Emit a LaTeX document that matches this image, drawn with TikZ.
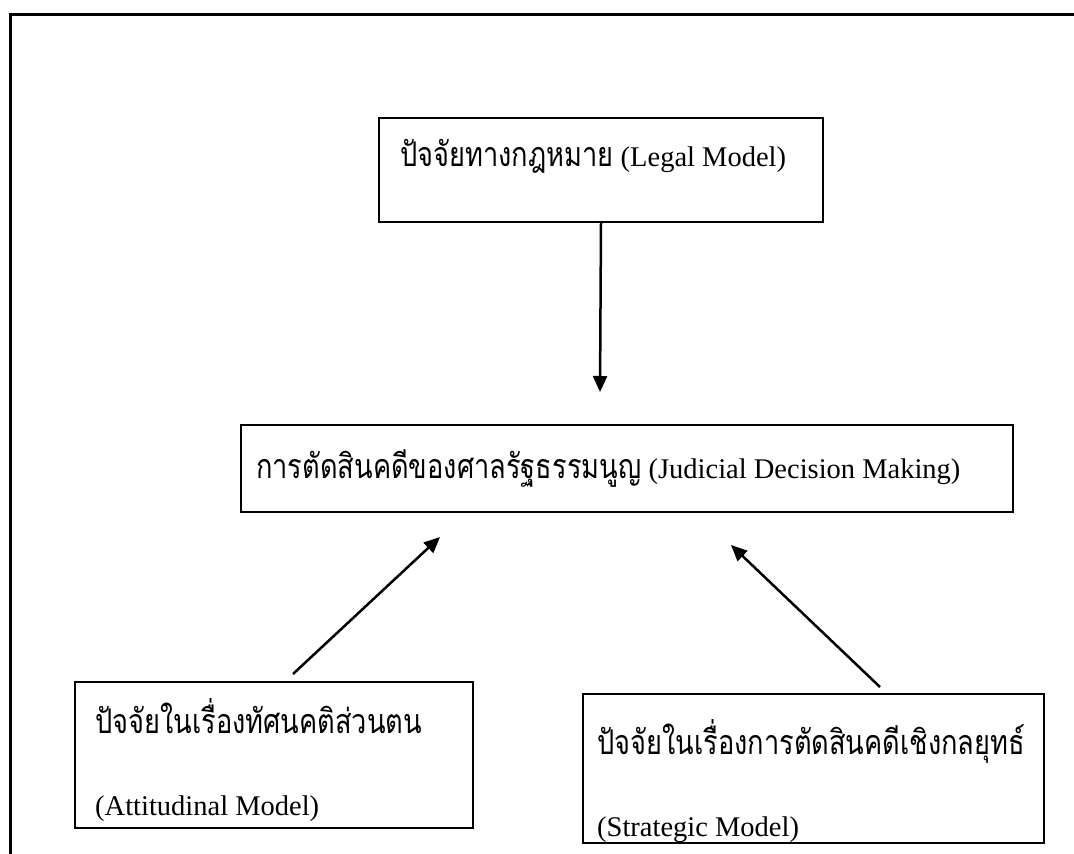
\documentclass[tikz,border=0pt]{standalone}
\usepackage{fontspec}
\setmainfont{Liberation Serif}
\newfontfamily\thai[Script=Thai,FakeStretch=0.8]{Loma}
\usetikzlibrary{arrows.meta}
\begin{document}
\begin{tikzpicture}[x=1pt,y=-1pt,
  box/.style={draw, line width=2pt, inner sep=0pt, anchor=north west},
  lbl/.style={anchor=base west, inner sep=0pt, font=\fontsize{28.5}{34}\selectfont},
  th/.style={font=\fontsize{34}{40}\selectfont\thai},
  arr/.style={line width=2.5pt, -{Triangle[length=16pt,width=14pt]}}]
\useasboundingbox (0,0) rectangle (1074,854);
\draw[line width=3pt] (10,880) -- (10,14) -- (1100,14);
% boxes
\node[box, minimum width=444pt, minimum height=104pt] (legal) at (378,117) {};
\node[box, minimum width=772pt, minimum height=87pt] (jdm) at (240,424) {};
\node[box, minimum width=398pt, minimum height=146pt] (att) at (74,681) {};
\node[box, minimum width=461pt, minimum height=149pt] (str) at (582,693) {};
% texts
\node[lbl] (legalt) at (400,166) {{\fontsize{34}{40}\selectfont\thai ปัจจัยทางกฎหมาย} (Legal Model)};
\node[lbl] (jdmt) at (256,478) {{\fontsize{34}{40}\selectfont\thai การตัดสินคดีของศาลรัฐธรรมนูญ} (Judicial Decision Making)};
\node[lbl, th] (att1) at (95,733) {ปัจจัยในเรื่องทัศนคติส่วนตน};
\node[lbl] (att2) at (95,815) {(Attitudinal Model)};
\node[lbl, th] (str1) at (597,754) {ปัจจัยในเรื่องการตัดสินคดีเชิงกลยุทธ์};
\node[lbl] (str2) at (597,836) {(Strategic Model)};
% arrow ends
\coordinate (e1) at (600,392);
\coordinate (s2) at (293,674);
\coordinate (e2) at (440,537);
\coordinate (s3) at (880,687);
\coordinate (e3) at (731,545);
\draw[arr] (legal.south) -- (e1);
\draw[arr] (s2) -- (e2);
\draw[arr] (s3) -- (e3);
\end{tikzpicture}
\end{document}
